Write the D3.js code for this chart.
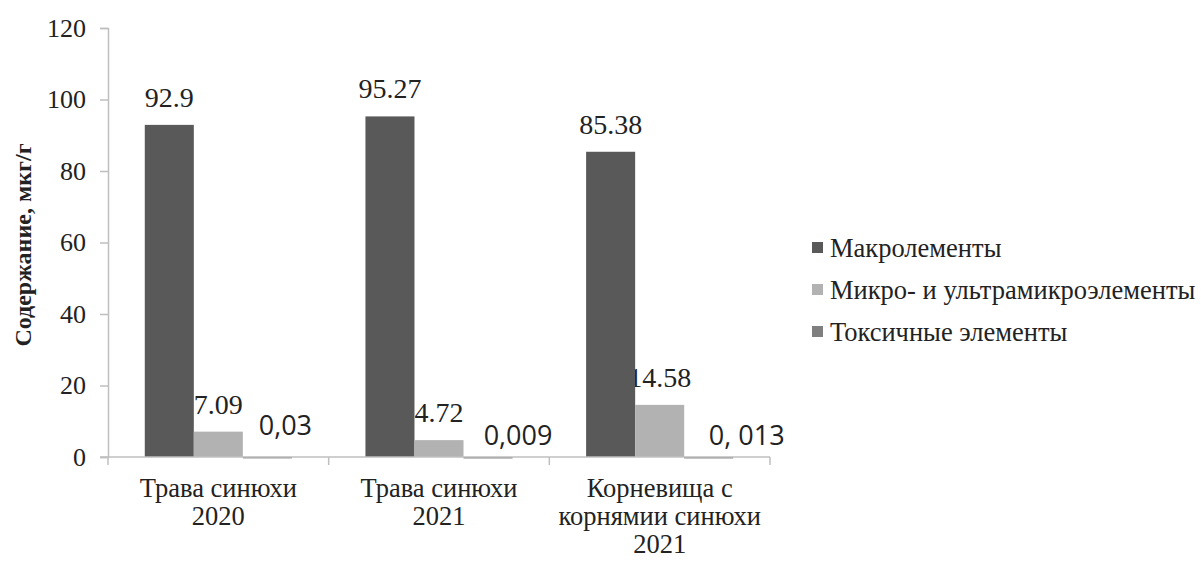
<!DOCTYPE html>
<html>
<head>
<meta charset="utf-8">
<script src="https://cdn.jsdelivr.net/npm/d3@7"></script>
<style>
  body { margin: 0; background: #fff; }
  svg { display: block; }
  .serif { font-family: "Liberation Serif", "Times New Roman", Times, serif; }
</style>
</head>
<body>
<svg></svg>
<script>
const width = 1201,
    height = 561;

const svg = d3.select("svg")
    .attr("width", width)
    .attr("height", height);

// data
const categories = ["Трава синюхи 2020", "Трава синюхи 2021", "Корневища с корнямии синюхи 2021"];
const categoryLines = [
    ["Трава синюхи", "2020"],
    ["Трава синюхи", "2021"],
    ["Корневища с", "корнямии синюхи", "2021"]
];
const seriesNames = ["Макролементы", "Микро- и ультрамикроэлементы", "Токсичные элементы"];
const macro = [92.9, 95.27, 85.38];
const micro = [7.09, 4.72, 14.58];
const toxic = [0.03, 0.009, 0.013];
const macroLabels = ["92.9", "95.27", "85.38"];
const microLabels = ["7.09", "4.72", "14.58"];
const toxicLabels = ["0,03", "0,009", "0, 013"];
const yTicks = [0, 20, 40, 60, 80, 100, 120];

const colors = ["#595959", "#b2b2b2", "#7f7f7f"];

const plot = { left: 108, right: 770, top: 28, bottom: 457 };

const x0 = d3.scaleBand()
    .domain(categories)
    .range([plot.left, plot.right])
    .paddingInner(0)
    .paddingOuter(0);

const x1 = d3.scaleBand()
    .domain(seriesNames)
    .range([0, x0.bandwidth()])
    .paddingOuter(0.75);

const y = d3.scaleLinear()
    .domain([0, 120])
    .range([plot.bottom, plot.top]);

const series = [macro, micro, toxic];

// y axis
const yAxis = svg.append("g")
    .attr("transform", `translate(${plot.left},0)`)
    .call(d3.axisLeft(y).tickValues(yTicks).tickSize(8).tickPadding(14));
yAxis.attr("font-family", null);
yAxis.select(".domain").attr("stroke", "#bfbfbf").attr("stroke-width", 1.5);
yAxis.selectAll(".tick line").attr("stroke", "#bfbfbf").attr("stroke-width", 1.5);
yAxis.selectAll(".tick text")
    .attr("class", "serif")
    .attr("font-size", 26)
    .attr("fill", "#222");

// value labels (drawn under the bars, as in the original)
const labelSets = [macroLabels, microLabels];
labelSets.forEach((labels, s) => {
    svg.append("g")
        .selectAll("text")
        .data(categories)
        .join("text")
        .attr("class", "serif")
        .attr("x", d => x0(d) + x1(seriesNames[s]) + x1.bandwidth() / 2)
        .attr("y", (d, i) => y(series[s][i]) - 18)
        .attr("text-anchor", "middle")
        .attr("font-size", 28)
        .attr("fill", "#222")
        .text((d, i) => labels[i]);
});

// toxic labels were placed by hand in the original
const toxicDx = [18, 30, 38];
const toxicDy = [-22, -12, -12];
svg.append("g")
    .selectAll("text")
    .data(categories)
    .join("text")
    .attr("x", (d, i) => x0(d) + x1(seriesNames[2]) + x1.bandwidth() / 2 + toxicDx[i])
    .attr("y", (d, i) => y(toxic[i]) + toxicDy[i])
    .attr("text-anchor", "middle")
    .style("font-family", "'Open Sans', sans-serif")
    .attr("font-size", 27)
    .attr("fill", "#222")
    .text((d, i) => toxicLabels[i]);

// bars
series.forEach((values, s) => {
    svg.append("g")
        .selectAll("rect")
        .data(categories)
        .join("rect")
        .attr("x", d => x0(d) + x1(seriesNames[s]))
        .attr("y", (d, i) => y(values[i]))
        .attr("width", x1.bandwidth())
        .attr("height", (d, i) => Math.max(1.5, y(0) - y(values[i])))
        .attr("fill", colors[s]);
});

// x axis with ticks between categories
const xAxis = svg.append("g")
    .attr("transform", `translate(0,${plot.bottom})`);
xAxis.append("line")
    .attr("x1", plot.left - 8)
    .attr("x2", plot.right)
    .attr("stroke", "#bfbfbf")
    .attr("stroke-width", 1.5);
const bounds = categories.map(d => x0(d)).concat([x0(categories[2]) + x0.bandwidth()]);
xAxis.selectAll(".sep")
    .data(bounds)
    .join("line")
    .attr("class", "sep")
    .attr("x1", d => d)
    .attr("x2", d => d)
    .attr("y1", 0)
    .attr("y2", 8)
    .attr("stroke", "#bfbfbf")
    .attr("stroke-width", 1.5);

xAxis.selectAll(".cat")
    .data(categories)
    .join("text")
    .attr("class", "cat serif")
    .attr("x", d => x0(d) + x0.bandwidth() / 2)
    .attr("y", 40)
    .attr("text-anchor", "middle")
    .attr("font-size", 26.5)
    .attr("fill", "#222")
    .each(function (d, i) {
        d3.select(this).selectAll("tspan")
            .data(categoryLines[i])
            .join("tspan")
            .attr("x", x0(d) + x0.bandwidth() / 2)
            .attr("dy", (t, j) => j === 0 ? 0 : 28)
            .text(t => t);
    });

// y axis title
svg.append("text")
    .attr("class", "serif")
    .attr("transform", "translate(31,245) rotate(-90)")
    .attr("text-anchor", "middle")
    .attr("font-weight", "bold")
    .attr("font-size", 24)
    .attr("fill", "#222")
    .text("Содержание, мкг/г");

// legend
const legend = svg.append("g")
    .attr("transform", "translate(812,248)");
const items = legend.selectAll("g")
    .data(seriesNames)
    .join("g")
    .attr("transform", (d, i) => `translate(0,${i * 42})`);
items.append("rect")
    .attr("x", 0)
    .attr("y", -6)
    .attr("width", 11)
    .attr("height", 11)
    .attr("fill", (d, i) => colors[i]);
items.append("text")
    .attr("class", "serif")
    .attr("x", 18)
    .attr("y", 9)
    .attr("font-size", 26.5)
    .attr("fill", "#222")
    .text(d => d);
</script>
</body>
</html>
